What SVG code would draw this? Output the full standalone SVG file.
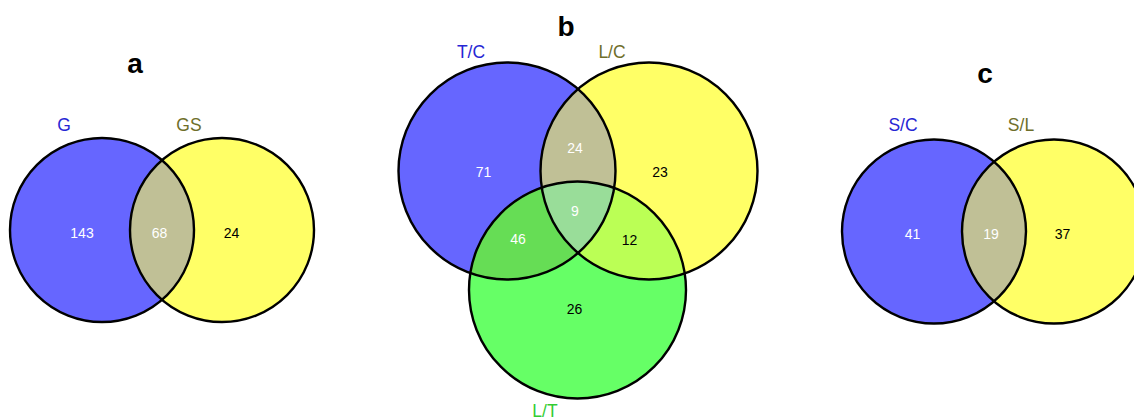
<svg xmlns="http://www.w3.org/2000/svg" width="1134" height="419" viewBox="0 0 1134 419">
  <style>
    .title { font-family: "Liberation Sans", Arial, sans-serif; font-size: 28px; font-weight: bold; fill: #000; text-anchor: middle; }
    .set { font-family: "Liberation Sans", Arial, sans-serif; font-size: 17.5px; text-anchor: middle; }
    .num { font-family: "Liberation Sans", Arial, sans-serif; font-size: 14px; text-anchor: middle; }
    .w { fill: #ffffff; }
    .k { fill: #000000; }
    .outline { fill: none; stroke: #000; stroke-width: 2.4; }
    .blue { fill: #6666ff; }
    .yellow { fill: #ffff66; }
    .green { fill: #66ff66; }
  </style>
  <defs>
    <clipPath id="clipA-G"><circle cx="102" cy="230" r="92"/></clipPath>
    <clipPath id="clipB-TC"><circle cx="507" cy="171" r="108.5"/></clipPath>
    <clipPath id="clipB-LC"><circle cx="649" cy="171" r="108.5"/></clipPath>
    <clipPath id="clipC-SC"><circle cx="934" cy="231.5" r="92"/></clipPath>
  </defs>
  <rect width="1134" height="419" fill="#ffffff"/>

  <!-- Panel a: G vs GS -->
  <g id="panel-a">
    <text class="title" x="135" y="72.5">a</text>
    <circle id="a-G" class="blue" cx="102" cy="230" r="92"/>
    <circle id="a-GS" class="yellow" cx="222" cy="230" r="92"/>
    <circle fill="#c0c096" cx="222" cy="230" r="92" clip-path="url(#clipA-G)"/>
    <circle class="outline" cx="102" cy="230" r="92"/>
    <circle class="outline" cx="222" cy="230" r="92"/>
    <text class="set" x="64" y="131" fill="#2626d4">G</text>
    <text class="set" x="189" y="131" fill="#6e6e2a">GS</text>
    <text class="num w" x="82" y="237.5">143</text>
    <text class="num w" x="159.5" y="237.5">68</text>
    <text class="num k" x="231.5" y="237.5">24</text>
  </g>

  <!-- Panel b: T/C, L/C and L/T -->
  <g id="panel-b">
    <text class="title" x="566" y="36">b</text>
    <circle id="b-TC" class="blue" cx="507" cy="171" r="108.5"/>
    <circle id="b-LC" class="yellow" cx="649" cy="171" r="108.5"/>
    <circle id="b-LT" class="green" cx="577.5" cy="290" r="108.5"/>
    <!-- pairwise overlaps -->
    <circle fill="#c0c096" cx="649" cy="171" r="108.5" clip-path="url(#clipB-TC)"/>
    <circle fill="#66dd55" cx="577.5" cy="290" r="108.5" clip-path="url(#clipB-TC)"/>
    <circle fill="#bbff55" cx="577.5" cy="290" r="108.5" clip-path="url(#clipB-LC)"/>
    <!-- triple overlap -->
    <g clip-path="url(#clipB-TC)">
      <circle fill="#99dd99" cx="577.5" cy="290" r="108.5" clip-path="url(#clipB-LC)"/>
    </g>
    <circle class="outline" cx="507" cy="171" r="108.5"/>
    <circle class="outline" cx="649" cy="171" r="108.5"/>
    <circle class="outline" cx="577.5" cy="290" r="108.5"/>
    <text class="set" x="471" y="57.5" fill="#2626d4">T/C</text>
    <text class="set" x="612" y="57.5" fill="#6e6e2a">L/C</text>
    <text class="set" x="545" y="417" fill="#33cc33">L/T</text>
    <text class="num w" x="483.5" y="176.5">71</text>
    <text class="num w" x="575" y="153">24</text>
    <text class="num k" x="660" y="176.5">23</text>
    <text class="num w" x="575" y="215.5">9</text>
    <text class="num w" x="518" y="244">46</text>
    <text class="num k" x="629.5" y="244.5">12</text>
    <text class="num k" x="574.5" y="313.5">26</text>
  </g>

  <!-- Panel c: S/C vs S/L -->
  <g id="panel-c">
    <text class="title" x="985" y="82.5">c</text>
    <circle id="c-SC" class="blue" cx="934" cy="231.5" r="92"/>
    <circle id="c-SL" class="yellow" cx="1054" cy="231.5" r="92"/>
    <circle fill="#c0c096" cx="1054" cy="231.5" r="92" clip-path="url(#clipC-SC)"/>
    <circle class="outline" cx="934" cy="231.5" r="92"/>
    <circle class="outline" cx="1054" cy="231.5" r="92"/>
    <text class="set" x="903" y="131" fill="#2626d4">S/C</text>
    <text class="set" x="1021" y="131" fill="#6e6e2a">S/L</text>
    <text class="num w" x="912.5" y="238.5">41</text>
    <text class="num w" x="991" y="238.5">19</text>
    <text class="num k" x="1062.5" y="238.5">37</text>
  </g>

  <g id="connectors"/>
</svg>
